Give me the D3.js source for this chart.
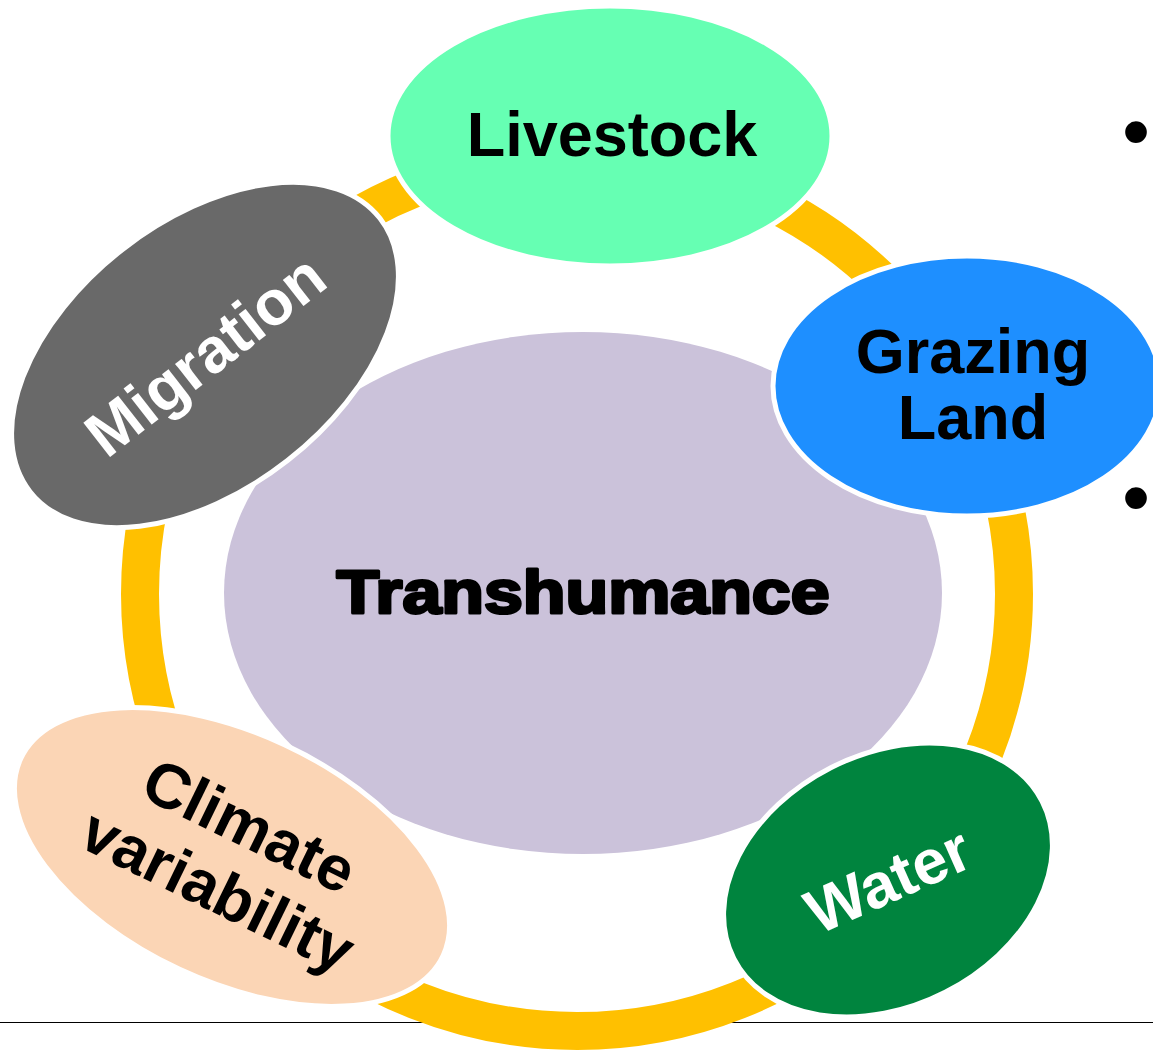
<!DOCTYPE html>
<html>
<head>
<meta charset="utf-8">
<script src="https://cdn.jsdelivr.net/npm/d3@7.9.0/dist/d3.min.js"></script>
<style>
  html, body { margin: 0; padding: 0; background: #fff; }
  svg { display: block; }
</style>
</head>
<body>
<div id="chart"></div>
<script>
const width = 1153;
const height = 1051;

// diagram content
const hub = "Transhumance";
const labels = ["Livestock", "Grazing Land", "Water", "Climate variability", "Migration"];
const labelLines = [["Livestock"], ["Grazing", "Land"], ["Water"], ["Climate", "variability"], ["Migration"]];
const fills = ["#66ffb3", "#1e8fff", "#00843e", "#fbd5b5", "#696969"];
const inks = ["#000", "#000", "#fff", "#000", "#fff"];
const bullets = ["•", "•"];

// layout of the bubbles (centre, radii, rotation in degrees)
const layout = [
  { cx: 610, cy: 136, rx: 222, ry: 130, rot: 0, textRot: 0, dx: 2, base: [20] },
  { cx: 967, cy: 386, rx: 194, ry: 130, rot: 0, textRot: 0, dx: 6, base: [-13, 53] },
  { cx: 888, cy: 880, rx: 173, ry: 126, rot: -27, textRot: -24, dx: 0, base: [22] },
  { cx: 232, cy: 857, rx: 233, ry: 124, rot: 25, textRot: 26, dx: 2, base: [-14, 58] },
  { cx: 205, cy: 355, rx: 222, ry: 134, rot: -38, textRot: -38, dx: 0, base: [22] }
];

const color = d3.scaleOrdinal().domain(labels).range(fills);
const ink = d3.scaleOrdinal().domain(labels).range(inks);

const svg = d3.select("#chart")
  .append("svg")
  .attr("width", width)
  .attr("height", height);

// slide rule at the bottom
svg.append("line")
  .attr("x1", 0).attr("x2", width)
  .attr("y1", 1022.5).attr("y2", 1022.5)
  .attr("stroke", "#000")
  .attr("stroke-width", 1.2);

// yellow cycle ring
svg.append("circle")
  .attr("cx", 577).attr("cy", 594).attr("r", 437)
  .attr("fill", "none")
  .attr("stroke", "#ffc000")
  .attr("stroke-width", 38);

// central ellipse
svg.append("ellipse")
  .attr("cx", 583).attr("cy", 593)
  .attr("rx", 359).attr("ry", 261)
  .attr("fill", "#cbc2da");

svg.append("text")
  .attr("x", 583).attr("y", 613)
  .attr("text-anchor", "middle")
  .attr("font-family", "'Liberation Sans', Arial, sans-serif")
  .attr("font-weight", "bold")
  .attr("font-size", 61)
  .attr("fill", "#000")
  .attr("stroke", "#000")
  .attr("stroke-width", 3)
  .attr("stroke-linejoin", "round")
  .attr("textLength", 493)
  .attr("lengthAdjust", "spacingAndGlyphs")
  .text(hub);

// outer bubbles
const nodes = svg.selectAll("g.node")
  .data(labels)
  .join("g")
  .attr("class", "node")
  .attr("transform", (d, i) => `translate(${layout[i].cx},${layout[i].cy})`);

nodes.append("ellipse")
  .attr("rx", (d, i) => layout[i].rx)
  .attr("ry", (d, i) => layout[i].ry)
  .attr("transform", (d, i) => `rotate(${layout[i].rot})`)
  .attr("fill", d => color(d))
  .attr("stroke", "#fff")
  .attr("stroke-width", 5);

nodes.append("g")
  .attr("transform", (d, i) => `rotate(${layout[i].textRot})`)
  .each(function(d, i) {
    const g = d3.select(this);
    labelLines[i].forEach((line, j) => {
      g.append("text")
        .attr("x", layout[i].dx)
        .attr("y", layout[i].base[j])
        .attr("text-anchor", "middle")
        .attr("font-family", "'Liberation Sans', Arial, sans-serif")
        .attr("font-weight", "bold")
        .attr("font-size", 63)
        .attr("fill", ink(d))
        .text(line);
    });
  });

// bullets of the slide text box on the right
svg.selectAll("text.bullet")
  .data(bullets)
  .join("text")
  .attr("class", "bullet")
  .attr("x", 1136)
  .attr("y", (d, i) => [159, 525][i])
  .attr("text-anchor", "middle")
  .attr("font-family", "'Liberation Sans', Arial, sans-serif")
  .attr("font-size", 80)
  .attr("fill", "#000")
  .text(d => d);
</script>
</body>
</html>
